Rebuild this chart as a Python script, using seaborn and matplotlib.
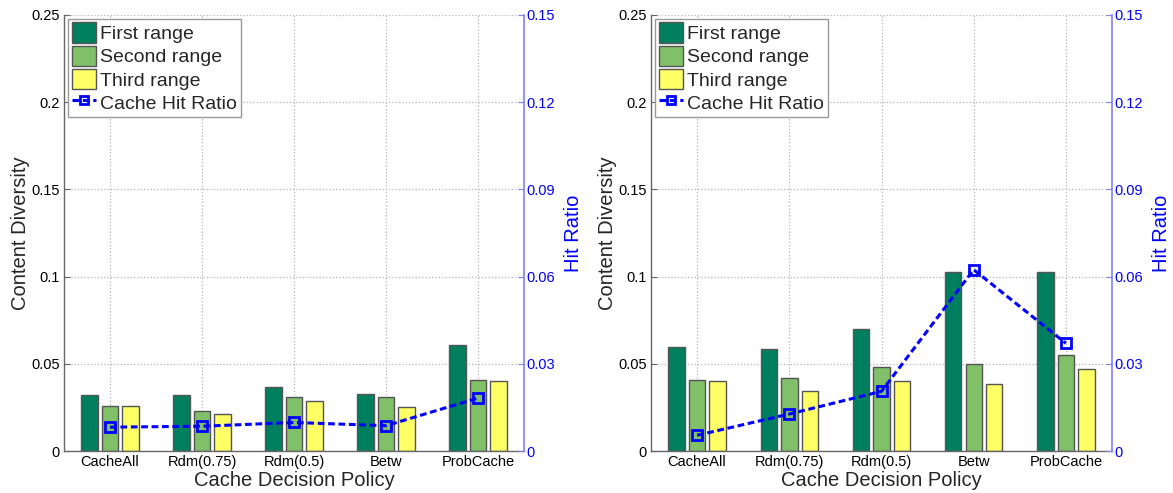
import numpy as np
import pandas as pd
import matplotlib
matplotlib.use("Agg")
import matplotlib.pyplot as plt
from matplotlib.lines import Line2D
import seaborn as sns

# Cache decision policies and diversity ranges
policies = ["CacheAll", "Rdm(0.75)", "Rdm(0.5)", "Betw", "ProbCache"]
ranges = ["First range", "Second range", "Third range"]

# Scenario A: content diversity per range, and cache hit ratio
a_first = [0.032, 0.032, 0.037, 0.033, 0.061]
a_second = [0.026, 0.023, 0.031, 0.031, 0.041]
a_third = [0.026, 0.0215, 0.029, 0.0255, 0.040]
a_hit = [0.0083, 0.0086, 0.0099, 0.0088, 0.0183]

# Scenario B
b_first = [0.0595, 0.0588, 0.0703, 0.1025, 0.1025]
b_second = [0.0411, 0.0422, 0.0485, 0.0497, 0.0552]
b_third = [0.0405, 0.0348, 0.0403, 0.0385, 0.0470]
b_hit = [0.0055, 0.0128, 0.0206, 0.0624, 0.0371]

range_colors = ["#007F5F", "#80C068", "#FFFF66"]
blue = "#0000FF"
font = ["Liberation Sans", "DejaVu Sans"]

sns.set_style("white")
plt.rcParams["font.family"] = font

fig = plt.figure(figsize=(11.73, 4.93), dpi=100)
panels = [
    ([0.0546, 0.0846, 0.3922, 0.8856], a_first, a_second, a_third, a_hit),
    ([0.5550, 0.0846, 0.3930, 0.8856], b_first, b_second, b_third, b_hit),
]

for rect, first, second, third, hit in panels:
    ax = fig.add_axes(rect)
    df = pd.DataFrame({
        "policy": policies * 3,
        "range": np.repeat(ranges, len(policies)),
        "diversity": first + second + third,
    })
    sns.barplot(data=df, x="policy", y="diversity", hue="range",
                palette=range_colors, saturation=1, width=0.667, gap=0.2,
                edgecolor="#555555", linewidth=1.0, errorbar=None,
                legend=False, ax=ax, zorder=2)
    ax.set_xlim(-0.5, len(policies) - 0.5)
    ax.set_ylim(0, 0.25)
    ax.set_yticks(np.arange(0, 0.2501, 0.05))
    ax.set_yticklabels(["0", "0.05", "0.1", "0.15", "0.2", "0.25"])
    ax.grid(True, linestyle=":", color="#B5B5B5", linewidth=0.9, zorder=0)
    ax.set_axisbelow(True)
    ax.tick_params(axis="both", direction="in", length=4, labelsize=10.5,
                   color="#666666", labelcolor="black", pad=3)
    for side in ["top", "right"]:
        ax.spines[side].set_visible(False)
    for side in ["left", "bottom"]:
        ax.spines[side].set_color("#666666")
        ax.spines[side].set_linewidth(1.0)
    ax.set_xlabel("Cache Decision Policy", fontsize=14.5, labelpad=1)
    ax.set_ylabel("Content Diversity", fontsize=14.5, labelpad=1)

    ax2 = ax.twinx()
    sns.lineplot(x=np.arange(len(policies)), y=hit, ax=ax2, color=blue,
                 linestyle=(0, (2.2, 1.2)), linewidth=2.2, marker="s",
                 markersize=7, markerfacecolor="none", markeredgecolor=blue,
                 markeredgewidth=2, sort=False)
    ax2.set_xlim(-0.5, len(policies) - 0.5)
    ax2.set_ylim(0, 0.15)
    ax2.set_yticks(np.arange(0, 0.1501, 0.03))
    ax2.set_yticklabels(["0", "0.03", "0.06", "0.09", "0.12", "0.15"])
    ax2.tick_params(axis="y", direction="in", length=4, labelsize=10.5,
                    color="#7F7FFF", labelcolor=blue, pad=2)
    for side in ["top", "left", "bottom"]:
        ax2.spines[side].set_visible(False)
    ax2.spines["right"].set_color("#7F7FFF")
    ax2.spines["right"].set_linewidth(1.2)
    ax2.set_ylabel("Hit Ratio", fontsize=14.5, color=blue, labelpad=6)
    ax2.grid(False)

    handles = [plt.Rectangle((0, 0), 1, 1, facecolor=c, edgecolor="#555555",
                             linewidth=1.0) for c in range_colors]
    handles.append(Line2D([], [], color=blue, linestyle=(0, (2.2, 1.2)),
                          linewidth=2.2, marker="s", markersize=6,
                          markerfacecolor="none", markeredgecolor=blue,
                          markeredgewidth=2))
    leg = ax2.legend(handles, ranges + ["Cache Hit Ratio"], loc="upper left",
                     bbox_to_anchor=(0.0, 1.0), fontsize=14, frameon=True,
                     fancybox=False, framealpha=1, edgecolor="#999999",
                     borderpad=0.2, labelspacing=0.12, handlelength=1.25,
                     handleheight=1.25, handletextpad=0.2, borderaxespad=0.2)
    leg.get_frame().set_linewidth(1.0)

fig.savefig("out.png", dpi=100)
